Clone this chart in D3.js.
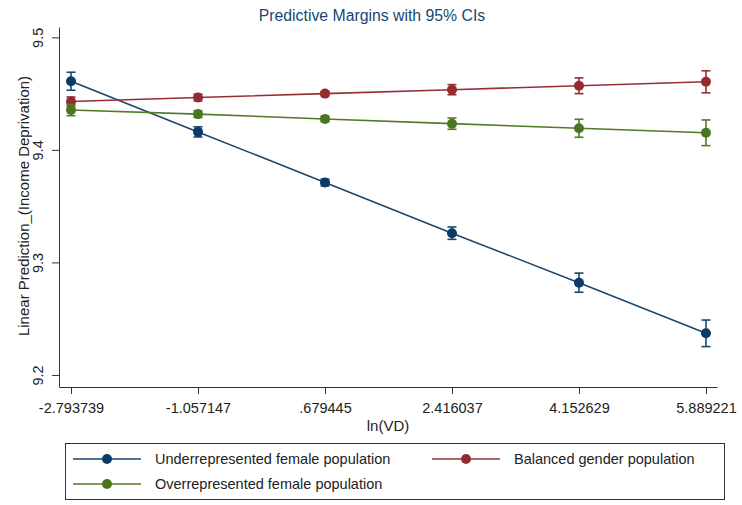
<!DOCTYPE html>
<html>
<head>
<meta charset="utf-8">
<script src="https://cdn.jsdelivr.net/npm/d3@7"></script>
<style>
    body { margin: 0; background: #fff; }
    text { font-family: "Liberation Sans", Arial, sans-serif; fill: #222; }
</style>
</head>
<body>
<div id="chart"></div>
<script>
// values
const xTicks = [-2.793739, -1.057147, 0.679445, 2.416037, 4.152629, 5.889221];
const xTickLabels = ["-2.793739", "-1.057147", ".679445", "2.416037", "4.152629", "5.889221"];
const yTicks = [9.2, 9.3, 9.4, 9.5];

const seriesNames = ["Underrepresented female population", "Balanced gender population", "Overrepresented female population"];
const underValues = [9.461, 9.416, 9.371, 9.326, 9.282, 9.237];
const underCI = [0.008, 0.0045, 0.003, 0.0055, 0.0085, 0.0118];
const balancedValues = [9.443, 9.4465, 9.450, 9.4535, 9.457, 9.4605];
const balancedCI = [0.004, 0.003, 0.002, 0.0045, 0.007, 0.0098];
const overValues = [9.4354, 9.4318, 9.4275, 9.4233, 9.4192, 9.4152];
const overCI = [0.005, 0.003, 0.0025, 0.005, 0.008, 0.0114];

const colors = ["#1a476f", "#952f36", "#527a28"];
const markerColors = ["#0c3a68", "#952a31", "#4b7621"];

var width = 742, height = 505;

var svg = d3.select("#chart")
    .append("svg")
    .attr("width", width)
    .attr("height", height);

const xScale = d3.scaleLinear()
    .domain([-2.958, 6.04])
    .range([59, 717]);

const yScale = d3.scaleLinear()
    .domain([9.1893, 9.5092])
    .range([387, 27]);

// title
svg.append("text")
    .attr("x", 372)
    .attr("y", 21)
    .attr("text-anchor", "middle")
    .style("font-size", "15.8px")
    .style("fill", "#1a476f")
    .text("Predictive Margins with 95% CIs");

// x axis
const xAxis = svg.append("g")
    .attr("transform", `translate(0, ${yScale.range()[0]})`)
    .call(d3.axisBottom(xScale)
        .tickValues(xTicks)
        .tickFormat((d, i) => xTickLabels[i])
        .tickSize(7)
        .tickSizeOuter(0)
        .tickPadding(9));
xAxis.selectAll("text").style("font-size", "14.5px").style("fill", "#222");

svg.append("text")
    .attr("x", 388)
    .attr("y", 431)
    .attr("text-anchor", "middle")
    .style("font-size", "15px")
    .text("ln(VD)");

// y axis
const yAxis = svg.append("g")
    .attr("transform", `translate(${xScale.range()[0]}, 0)`)
    .call(d3.axisLeft(yScale)
        .tickValues(yTicks)
        .tickFormat(d3.format(".1f"))
        .tickSize(7)
        .tickSizeOuter(0));
yAxis.selectAll("text")
    .attr("x", 0)
    .attr("y", -16)
    .attr("dy", 0)
    .attr("transform", "rotate(-90)")
    .attr("text-anchor", "middle")
    .style("font-size", "14.5px")
    .style("fill", "#222");

svg.selectAll(".domain, .tick line")
    .style("stroke", "#333")
    .style("stroke-width", 1);

svg.append("text")
    .attr("transform", "translate(28.5, 206) rotate(-90)")
    .attr("text-anchor", "middle")
    .style("font-size", "15px")
    .text("Linear Prediction_(Income Deprivation)");

// series
const series = [
    {values: underValues, ci: underCI},
    {values: balancedValues, ci: balancedCI},
    {values: overValues, ci: overCI}
];

const line = d3.line()
    .x((d, i) => xScale(xTicks[i]))
    .y((d) => yScale(d));

series.forEach((s, k) => {
    const g = svg.append("g");

    g.append("path")
        .datum(s.values)
        .attr("d", line)
        .style("fill", "none")
        .style("stroke", colors[k])
        .style("stroke-width", 1.6);

    const bars = g.selectAll(".ci")
        .data(s.values)
        .enter()
        .append("g");

    bars.append("line")
        .attr("x1", (d, i) => xScale(xTicks[i]))
        .attr("x2", (d, i) => xScale(xTicks[i]))
        .attr("y1", (d, i) => yScale(d - s.ci[i]))
        .attr("y2", (d, i) => yScale(d + s.ci[i]))
        .style("stroke", colors[k])
        .style("stroke-width", 1.6);

    [-1, 1].forEach((sign) => {
        bars.append("line")
            .attr("x1", (d, i) => xScale(xTicks[i]) - 4.5)
            .attr("x2", (d, i) => xScale(xTicks[i]) + 4.5)
            .attr("y1", (d, i) => yScale(d + sign * s.ci[i]))
            .attr("y2", (d, i) => yScale(d + sign * s.ci[i]))
            .style("stroke", colors[k])
            .style("stroke-width", 1.6);
    });

    g.selectAll("circle")
        .data(s.values)
        .enter()
        .append("circle")
        .attr("cx", (d, i) => xScale(xTicks[i]))
        .attr("cy", (d) => yScale(d))
        .attr("r", 5)
        .style("fill", markerColors[k]);
});

// legend
const legend = svg.append("g");
legend.append("rect")
    .attr("x", 65.5)
    .attr("y", 443.5)
    .attr("width", 659)
    .attr("height", 56)
    .style("fill", "#fff")
    .style("stroke", "#333")
    .style("stroke-width", 1);

const legendPos = [[73, 459], [432, 459], [73, 484]];
seriesNames.forEach((name, k) => {
    const [lx, ly] = legendPos[k];
    legend.append("line")
        .attr("x1", lx)
        .attr("x2", lx + 68)
        .attr("y1", ly)
        .attr("y2", ly)
        .style("stroke", colors[k])
        .style("stroke-width", 1.6);
    legend.append("circle")
        .attr("cx", lx + 34)
        .attr("cy", ly)
        .attr("r", 5)
        .style("fill", markerColors[k]);
    legend.append("text")
        .attr("x", lx + 82)
        .attr("y", ly + 5)
        .style("font-size", "14.5px")
        .text(name);
});
</script>
</body>
</html>
